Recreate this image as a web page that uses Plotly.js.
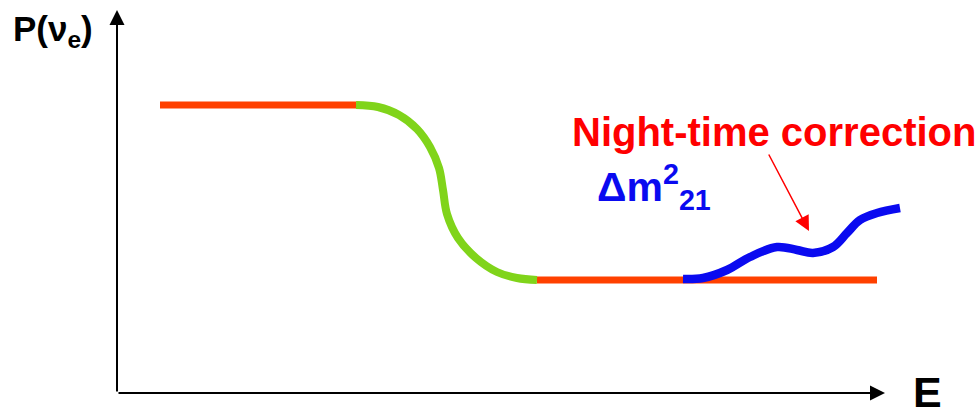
<!DOCTYPE html>
<html>
<head>
<meta charset="utf-8">
<script src="https://cdn.plot.ly/plotly-3.0.1.min.js"></script>
<style>
  html, body { margin: 0; padding: 0; background: #fff; }
  #chart { width: 979px; height: 418px; }
</style>
</head>
<body>
<div id="chart"></div>
<script>
// schematic survival probability P(nu_e) vs E, origin at the axis corner
var highE = [43, 239];
var highP = [288, 288];

var mswE = [239, 261, 282, 300, 313, 322, 326, 330, 341, 359, 380, 400, 420];
var mswP = [288, 286, 278, 264, 246, 225, 203, 179, 155, 135, 121, 115, 113];

var lowE = [420, 760];
var lowP = [113, 113];

var nightE = [566, 586, 610, 633, 660, 680, 696, 716, 730, 743, 760, 783];
var nightP = [114, 115, 123, 136, 146, 143, 140, 146, 160, 173, 180, 185];

var axisEnd = {x: 768, y: 383};
var pointerFrom = {x: 651, y: 240};
var pointerTo = {x: 692, y: 162};

var font = "Liberation Sans, Arial, sans-serif";

var data = [
  {x: highE, y: highP, mode: "lines", line: {color: "#ff4000", width: 7}},
  {x: lowE, y: lowP, mode: "lines", line: {color: "#ff4000", width: 7}},
  {x: mswE, y: mswP, mode: "lines", line: {color: "#80d41a", width: 8, shape: "spline", smoothing: 1}},
  {x: nightE, y: nightP, mode: "lines", line: {color: "#0a0af0", width: 8.5, shape: "spline", smoothing: 1}}
];

var layout = {
  width: 979,
  height: 418,
  margin: {l: 0, r: 0, t: 0, b: 0},
  showlegend: false,
  paper_bgcolor: "#fff",
  plot_bgcolor: "#fff",
  xaxis: {range: [-117, 862], visible: false, fixedrange: true},
  yaxis: {range: [-25, 393], visible: false, fixedrange: true},
  annotations: [
    // axes with arrow heads
    {x: 0, y: axisEnd.y, ax: 0, ay: 0, axref: "x", ayref: "y", text: "",
     showarrow: true, arrowhead: 2, arrowsize: 1.5, arrowwidth: 2, arrowcolor: "#000"},
    {x: axisEnd.x, y: 0, ax: 0, ay: 0, axref: "x", ayref: "y", text: "",
     showarrow: true, arrowhead: 2, arrowsize: 1.5, arrowwidth: 2, arrowcolor: "#000"},
    // pointer to the night-time wiggle
    {x: pointerTo.x, y: pointerTo.y, ax: pointerFrom.x, ay: pointerFrom.y, axref: "x", ayref: "y", text: "",
     showarrow: true, arrowhead: 2, arrowsize: 2, arrowwidth: 1.5, arrowcolor: "#ff0000"},
    {x: -106, y: 362, xanchor: "left", yanchor: "middle", showarrow: false,
     text: "P(ν<sub>e</sub>)", font: {family: font, size: 35, weight: "bold", color: "#000"}},
    {x: 810, y: -25, xanchor: "center", yanchor: "bottom", showarrow: false,
     text: "E", font: {family: font, size: 43, weight: "bold", color: "#000"}},
    {x: 453, y: 261, xanchor: "left", yanchor: "middle", showarrow: false,
     text: "Night-time correction", font: {family: font, size: 40, weight: "bold", color: "#ff0000"}},
    {x: 478, y: 206, xanchor: "left", yanchor: "middle", showarrow: false,
     text: "Δm<sup>2</sup><sub>21</sub>", font: {family: font, size: 41, weight: "bold", color: "#0a0af0"}}
  ]
};

Plotly.newPlot("chart", data, layout, {displayModeBar: false, staticPlot: true});
</script>
</body>
</html>
